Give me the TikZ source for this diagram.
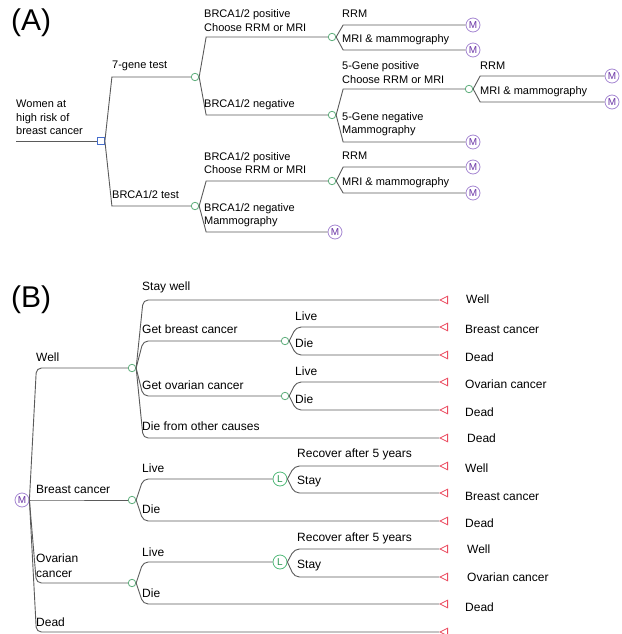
\documentclass[tikz,border=0pt]{standalone}
\usepackage{fontspec}
\setmainfont{Liberation Sans}
\usetikzlibrary{shapes.geometric}
\definecolor{ln}{RGB}{90,90,90}
\definecolor{chg}{RGB}{95,175,125}
\definecolor{mpur}{RGB}{165,135,210}
\definecolor{mtxt}{RGB}{105,50,165}
\definecolor{lgrn}{RGB}{80,185,120}
\definecolor{ltxt}{RGB}{40,150,80}
\definecolor{dblue}{RGB}{70,110,205}
\definecolor{tred}{RGB}{235,75,95}
\begin{document}
\begin{tikzpicture}[x=1pt,y=-1pt,
 br/.style={draw=ln,line width=0.9pt},
 brB/.style={br,rounded corners=5pt},
 chance/.style={circle,draw=chg,fill=white,line width=0.8pt,inner sep=0pt,minimum size=7.5pt},
 mnode/.style={circle,draw=mpur,fill=white,line width=0.8pt,inner sep=0pt,minimum size=14pt,text=mtxt,font=\fontsize{10}{10}\selectfont},
 lnode/.style={circle,draw=lgrn,fill=white,line width=0.8pt,inner sep=0pt,minimum size=14pt,text=ltxt,font=\fontsize{10}{10}\selectfont},
 dec/.style={rectangle,draw=dblue,fill=white,line width=0.8pt,inner sep=0pt,minimum size=7pt},
 term/.style={isosceles triangle,shape border rotate=180,isosceles triangle apex angle=52,draw=tred,fill=white,line width=0.8pt,inner sep=0pt,minimum size=7.5pt,anchor=apex},
 la/.style={anchor=west,inner sep=0pt,font=\fontsize{11}{13.5}\selectfont,align=left},
 lb/.style={anchor=west,inner sep=0pt,font=\fontsize{12}{15}\selectfont,align=left},
 panel/.style={anchor=west,inner sep=0pt,font=\fontsize{30}{30}\selectfont}
]
\useasboundingbox (0,0) rectangle (621,634);
\clip (0,0) rectangle (621,634);

% ================= Panel A =================
\node[panel] (pA) at (11,23) {(A)};
\node[la] (tRoot) at (16,117.5) {Women at\\high risk of\\breast cancer};
\coordinate (r0) at (16,141);
\node[dec] (D) at (101,141) {};
\draw[br] (r0) -- (D.west);

\node[chance] (C1) at (195,77) {};
\node[chance] (C2) at (195,206) {};
\node[la] (l7) at (112,66) {7-gene test};
\node[la] (lB) at (112,195) {BRCA1/2 test};
\coordinate (fD) at ([xshift=7pt]D.east);
\draw[br] (D.east) -- (fD |- C1) -- (C1.west);
\draw[br] (D.east) -- (fD |- C2) -- (C2.west);

\node[chance] (C3) at (332,37) {};
\node[chance] (C4) at (332,115) {};
\node[la] (l3) at (204,20.5) {BRCA1/2 positive\\Choose RRM or MRI};
\node[la] (l4) at (204,105) {BRCA1/2 negative};
\coordinate (fC1) at ([xshift=7pt]C1.east);
\draw[br] (C1.east) -- (fC1 |- C3) -- (C3.west);
\draw[br] (C1.east) -- (fC1 |- C4) -- (C4.west);

\node[mnode] (M1) at (473,25) {M};
\node[mnode] (M2) at (473,50) {M};
\node[la] (lm1) at (342,14) {RRM};
\node[la] (lm2) at (342,40) {MRI \& mammography};
\coordinate (fC3) at ([xshift=7pt]C3.east);
\draw[br] (C3.east) -- (fC3 |- M1) -- (M1.west);
\draw[br] (C3.east) -- (fC3 |- M2) -- (M2.west);

\node[chance] (C5) at (469,89) {};
\node[mnode] (M3) at (473,142) {M};
\node[la] (l5) at (342,72.5) {5-Gene positive\\Choose RRM or MRI};
\node[la] (l6) at (342,124) {5-Gene negative\\Mammography};
\coordinate (fC4) at ([xshift=7pt]C4.east);
\draw[br] (C4.east) -- (fC4 |- C5) -- (C5.west);
\draw[br] (C4.east) -- (fC4 |- M3) -- (M3.west);

\node[mnode] (M4) at (612,76) {M};
\node[mnode] (M5) at (612,102) {M};
\node[la] (lm4) at (480,66) {RRM};
\node[la] (lm5) at (480,92) {MRI \& mammography};
\coordinate (fC5) at ([xshift=7pt]C5.east);
\draw[br] (C5.east) -- (fC5 |- M4) -- (M4.west);
\draw[br] (C5.east) -- (fC5 |- M5) -- (M5.west);

\node[chance] (C6) at (332,181) {};
\node[mnode] (M8) at (335,232) {M};
\node[la] (l8) at (204,163) {BRCA1/2 positive\\Choose RRM or MRI};
\node[la] (l9) at (204,215) {BRCA1/2 negative\\Mammography};
\coordinate (fC2) at ([xshift=7pt]C2.east);
\draw[br] (C2.east) -- (fC2 |- C6) -- (C6.west);
\draw[br] (C2.east) -- (fC2 |- M8) -- (M8.west);

\node[mnode] (M6) at (473,167) {M};
\node[mnode] (M7) at (473,193) {M};
\node[la] (lm6) at (342,156) {RRM};
\node[la] (lm7) at (342,183) {MRI \& mammography};
\coordinate (fC6) at ([xshift=7pt]C6.east);
\draw[br] (C6.east) -- (fC6 |- M6) -- (M6.west);
\draw[br] (C6.east) -- (fC6 |- M7) -- (M7.west);

% ================= Panel B =================
\node[panel] (pB) at (11,300) {(B)};
\node[mnode] (M0) at (22,500) {M};
\node[chance] (W) at (132,368) {};
\node[chance] (BC) at (132,500) {};
\node[chance] (OC) at (132,583) {};
\node[term] (T0) at (439,632) {};
\node[lb] (lW) at (36,357) {Well};
\node[lb] (lBC) at (36,489) {Breast cancer};
\node[lb] (lOC) at (36,565.5) {Ovarian\\cancer};
\node[lb] (lD0) at (36,622) {Dead};
\coordinate (fM0) at ([xshift=7pt]M0.east);
\draw[brB] (M0.east) -- (fM0 |- W) -- (W.west);
\draw[brB] (M0.east) -- (fM0 |- BC) -- (BC.west);
\draw[brB] (M0.east) -- (fM0 |- OC) -- (OC.west);
\draw[brB] (M0.east) -- (fM0 |- T0) -- (T0.apex);

% Well subtree
\node[term] (T1) at (439,300) {};
\node[chance] (CB) at (285,341) {};
\node[chance] (CO) at (285,396) {};
\node[term] (T6) at (439,438) {};
\node[lb] (lsw) at (142,287) {Stay well};
\node[lb] (lgb) at (142,329) {Get breast cancer};
\node[lb] (lgo) at (142,385) {Get ovarian cancer};
\node[lb] (ldo) at (142,426) {Die from other causes};
\coordinate (fW) at ([xshift=7pt]W.east);
\draw[brB] (W.east) -- (fW |- T1) -- (T1.apex);
\draw[brB] (W.east) -- (fW |- CB) -- (CB.west);
\draw[brB] (W.east) -- (fW |- CO) -- (CO.west);
\draw[brB] (W.east) -- (fW |- T6) -- (T6.apex);

\node[term] (T2) at (439,327) {};
\node[term] (T3) at (439,355) {};
\node[lb] (lcb1) at (295,316) {Live};
\node[lb] (lcb2) at (295,343) {Die};
\coordinate (fCB) at ([xshift=7pt]CB.east);
\draw[brB] (CB.east) -- (fCB |- T2) -- (T2.apex);
\draw[brB] (CB.east) -- (fCB |- T3) -- (T3.apex);

\node[term] (T4) at (439,382) {};
\node[term] (T5) at (439,410) {};
\node[lb] (lco1) at (295,371) {Live};
\node[lb] (lco2) at (295,399) {Die};
\coordinate (fCO) at ([xshift=7pt]CO.east);
\draw[brB] (CO.east) -- (fCO |- T4) -- (T4.apex);
\draw[brB] (CO.east) -- (fCO |- T5) -- (T5.apex);

% Breast cancer subtree
\node[lnode] (L1) at (280,479) {L};
\node[term] (T9) at (439,521) {};
\node[lb] (lbl) at (142,468) {Live};
\node[lb] (lbd) at (142,509) {Die};
\coordinate (fBC) at ([xshift=7pt]BC.east);
\draw[brB] (BC.east) -- (fBC |- L1) -- (L1.west);
\draw[brB] (BC.east) -- (fBC |- T9) -- (T9.apex);

\node[term] (T7) at (439,466) {};
\node[term] (T8) at (439,493) {};
\node[lb] (lr1) at (297,454) {Recover after 5 years};
\node[lb] (ls1) at (297,482) {Stay};
\coordinate (fL1) at ([xshift=7pt]L1.east);
\draw[brB] (L1.east) -- (fL1 |- T7) -- (T7.apex);
\draw[brB] (L1.east) -- (fL1 |- T8) -- (T8.apex);

% Ovarian cancer subtree
\node[lnode] (L2) at (280,562) {L};
\node[term] (T12) at (439,604) {};
\node[lb] (lol) at (142,552) {Live};
\node[lb] (lod) at (142,593) {Die};
\coordinate (fOC) at ([xshift=7pt]OC.east);
\draw[brB] (OC.east) -- (fOC |- L2) -- (L2.west);
\draw[brB] (OC.east) -- (fOC |- T12) -- (T12.apex);

\node[term] (T10) at (439,549) {};
\node[term] (T11) at (439,577) {};
\node[lb] (lr2) at (297,538) {Recover after 5 years};
\node[lb] (ls2) at (297,566) {Stay};
\coordinate (fL2) at ([xshift=7pt]L2.east);
\draw[brB] (L2.east) -- (fL2 |- T10) -- (T10.apex);
\draw[brB] (L2.east) -- (fL2 |- T11) -- (T11.apex);

% Terminal labels
\node[lb] (e1) at (466,299) {Well};
\node[lb] (e2) at (465,329) {Breast cancer};
\node[lb] (e3) at (465,357) {Dead};
\node[lb] (e4) at (465,384) {Ovarian cancer};
\node[lb] (e5) at (465,412) {Dead};
\node[lb] (e6) at (467,438) {Dead};
\node[lb] (e7) at (465,468) {Well};
\node[lb] (e8) at (465,496) {Breast cancer};
\node[lb] (e9) at (465,523) {Dead};
\node[lb] (e10) at (467,549) {Well};
\node[lb] (e11) at (467,577) {Ovarian cancer};
\node[lb] (e12) at (465,607) {Dead};
\end{tikzpicture}
\end{document}
